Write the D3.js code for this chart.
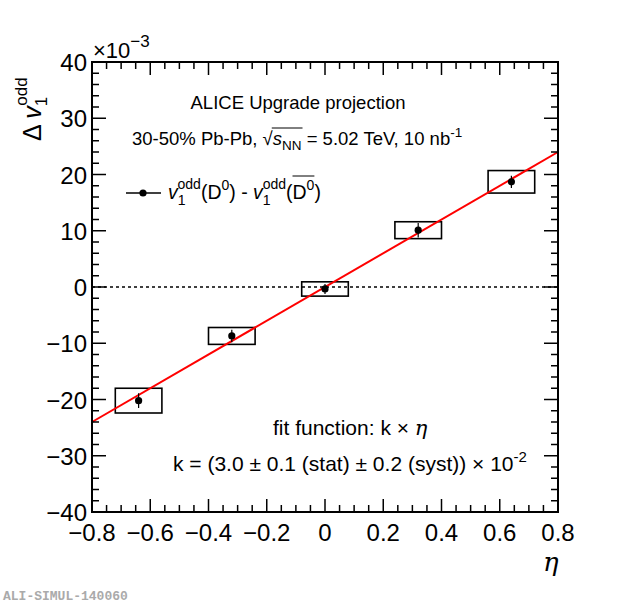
<!DOCTYPE html>
<html>
<head>
<meta charset="utf-8">
<script src="https://cdn.jsdelivr.net/npm/d3@7"></script>
<style>
  body { margin: 0; background: #fff; }
  svg text { font-family: "Liberation Sans", Arial, sans-serif; fill: #000; }
</style>
</head>
<body>
<script>
// Data (units of 10^-3)
var etaValues = [-0.64, -0.32, 0, 0.32, 0.64];
var dv1Values = [-20.2, -8.7, -0.35, 10.1, 18.7];
var statErrors = [1.3, 1.1, 0.9, 1.3, 1.1];
var systErrors = [2.2, 1.5, 1.27, 1.5, 2.0];
var etaHalfWidth = 0.08;
var fitSlope = 30; // k = 3.0e-2 -> 30 in 10^-3 units
var xTicks = [-0.8, -0.6, -0.4, -0.2, 0, 0.2, 0.4, 0.6, 0.8];
var yTicks = [-40, -30, -20, -10, 0, 10, 20, 30, 40];

var width = 620,
  height = 603;

// frame edges (note: "top" is reserved on window, so prefixed names)
var frameLeft = 92, frameRight = 558, frameTop = 62, frameBottom = 512;

var svg = d3.select('body')
  .append('svg')
  .attr('width', width)
  .attr('height', height);

var x = d3.scaleLinear().domain([-0.8, 0.8]).range([frameLeft, frameRight]);
var y = d3.scaleLinear().domain([-40, 40]).range([frameBottom, frameTop]);

// Zero dashed line
svg.append('line')
  .attr('x1', x(-0.8)).attr('x2', x(0.8))
  .attr('y1', y(0)).attr('y2', y(0))
  .attr('stroke', '#000')
  .attr('stroke-width', 1.5)
  .attr('stroke-dasharray', '3,3');

// Systematic boxes
svg.append('g').selectAll('rect')
  .data(etaValues)
  .enter()
  .append('rect')
  .attr('x', function(d) { return x(d - etaHalfWidth); })
  .attr('width', function(d) { return x(d + etaHalfWidth) - x(d - etaHalfWidth); })
  .attr('y', function(d, i) { return y(dv1Values[i] + systErrors[i]); })
  .attr('height', function(d, i) { return y(dv1Values[i] - systErrors[i]) - y(dv1Values[i] + systErrors[i]); })
  .attr('fill', 'none')
  .attr('stroke', '#000')
  .attr('stroke-width', 1.6);

// Fit line
svg.append('line')
  .attr('x1', x(-0.8)).attr('y1', y(fitSlope * -0.8))
  .attr('x2', x(0.8)).attr('y2', y(fitSlope * 0.8))
  .attr('stroke', '#f00')
  .attr('stroke-width', 2);

// Stat error bars
svg.append('g').selectAll('line')
  .data(etaValues)
  .enter()
  .append('line')
  .attr('x1', function(d) { return x(d); })
  .attr('x2', function(d) { return x(d); })
  .attr('y1', function(d, i) { return y(dv1Values[i] + statErrors[i]); })
  .attr('y2', function(d, i) { return y(dv1Values[i] - statErrors[i]); })
  .attr('stroke', '#000')
  .attr('stroke-width', 1.2);

// Markers
svg.append('g').selectAll('circle')
  .data(etaValues)
  .enter()
  .append('circle')
  .attr('cx', function(d) { return x(d); })
  .attr('cy', function(d, i) { return y(dv1Values[i]); })
  .attr('r', 3.6)
  .attr('fill', '#000');

// Frame
svg.append('rect')
  .attr('x', frameLeft).attr('y', frameTop)
  .attr('width', frameRight - frameLeft).attr('height', frameBottom - frameTop)
  .attr('fill', 'none')
  .attr('stroke', '#000')
  .attr('stroke-width', 2);

// Ticks (ROOT style, inward on all four sides)
var ticks = svg.append('g').attr('stroke', '#000').attr('stroke-width', 1.5);
d3.range(0, 33).forEach(function(k) {
  var v = -0.8 + k * 0.05;
  var len = (k % 4 === 0) ? 13 : 7;
  ticks.append('line').attr('x1', x(v)).attr('x2', x(v)).attr('y1', frameBottom).attr('y2', frameBottom - len);
  ticks.append('line').attr('x1', x(v)).attr('x2', x(v)).attr('y1', frameTop).attr('y2', frameTop + len);
});
d3.range(-40, 41, 2).forEach(function(v) {
  var len = (v % 10 === 0) ? 14 : 7;
  ticks.append('line').attr('x1', frameLeft).attr('x2', frameLeft + len).attr('y1', y(v)).attr('y2', y(v));
  ticks.append('line').attr('x1', frameRight).attr('x2', frameRight - len).attr('y1', y(v)).attr('y2', y(v));
});

function fmt(v) {
  var s = String(Math.round(v * 10) / 10);
  return s.replace('-', '\u2212');
}

// Tick labels
svg.append('g').selectAll('text')
  .data(xTicks)
  .enter()
  .append('text')
  .attr('x', function(d) { return x(d); })
  .attr('y', 541)
  .attr('text-anchor', 'middle')
  .attr('font-size', 24)
  .text(fmt);

svg.append('g').selectAll('text')
  .data(yTicks)
  .enter()
  .append('text')
  .attr('x', 87)
  .attr('y', function(d) { return y(d) + 9; })
  .attr('text-anchor', 'end')
  .attr('font-size', 24)
  .text(fmt);

// x10^-3
var exp = svg.append('text').attr('x', 93).attr('y', 58).attr('font-size', 22);
exp.append('tspan').text('\u00d710');
exp.append('tspan').attr('dy', -11).attr('font-size', 17).text('\u22123');

// Axis titles
var yt = svg.append('text')
  .attr('transform', 'translate(41,141) rotate(-90)')
  .attr('font-size', 25);
yt.append('tspan').text('\u0394 ');
yt.append('tspan').attr('font-style', 'italic').text('v');
yt.append('tspan').attr('dy', 6).attr('font-size', 17).text('1');
yt.append('tspan').attr('dx', -9).attr('dy', -20).attr('font-size', 17).text('odd');

svg.append('text')
  .attr('x', 543).attr('y', 571)
  .attr('font-size', 26)
  .attr('font-style', 'italic')
  .style('font-family', '"DejaVu Serif", serif')
  .text('\u03b7');

// Header texts
svg.append('text')
  .attr('x', 298).attr('y', 109)
  .attr('text-anchor', 'middle')
  .attr('font-size', 18.5)
  .text('ALICE Upgrade projection');

var t2 = svg.append('text').attr('x', 132).attr('y', 145).attr('font-size', 18.5);
t2.append('tspan').text('30-50% Pb-Pb, \u221A');
t2.append('tspan').attr('font-style', 'italic').text('s');
t2.append('tspan').attr('dy', 5).attr('font-size', 13.5).text('NN');
t2.append('tspan').attr('dy', -5).text(' = 5.02 TeV, 10 nb');
t2.append('tspan').attr('dy', -8).attr('font-size', 13.5).text('-1');

// Overline of the sqrt
(function() {
  var node = t2.node();
  var full = node.textContent;
  var iRoot = full.indexOf('\u221A');
  var iEnd = full.indexOf('NN') + 1;
  var x1 = node.getEndPositionOfChar(iRoot).x - 1;
  var x2 = node.getEndPositionOfChar(iEnd).x + 1;
  svg.append('line')
    .attr('x1', x1).attr('x2', x2)
    .attr('y1', 128).attr('y2', 128)
    .attr('stroke', '#000').attr('stroke-width', 1);
})();

// Legend
svg.append('line')
  .attr('x1', 126).attr('x2', 161).attr('y1', 193).attr('y2', 193)
  .attr('stroke', '#000').attr('stroke-width', 1.5);
svg.append('circle').attr('cx', 143).attr('cy', 193).attr('r', 3.6).attr('fill', '#000');

var lg = svg.append('text').attr('x', 168).attr('y', 199).attr('font-size', 19.5);
lg.append('tspan').attr('font-style', 'italic').text('v');
lg.append('tspan').attr('dy', 6).attr('font-size', 14).text('1');
lg.append('tspan').attr('dx', -8).attr('dy', -16).attr('font-size', 14).text('odd');
lg.append('tspan').attr('dy', 10).text('(D');
lg.append('tspan').attr('dy', -9).attr('font-size', 14).text('0');
lg.append('tspan').attr('dy', 9).text(') - ');
lg.append('tspan').attr('font-style', 'italic').text('v');
lg.append('tspan').attr('dy', 6).attr('font-size', 14).text('1');
lg.append('tspan').attr('dx', -8).attr('dy', -16).attr('font-size', 14).text('odd');
lg.append('tspan').attr('dy', 10).text('(D');
lg.append('tspan').attr('dy', -9).attr('font-size', 14).text('0');
lg.append('tspan').attr('dy', 9).text(')');

// Overline on D-bar
(function() {
  var node = lg.node();
  var full = node.textContent;
  var iD = full.lastIndexOf('D');
  var p1 = node.getStartPositionOfChar(iD).x;
  var p2 = node.getEndPositionOfChar(iD + 1).x;
  svg.append('line')
    .attr('x1', p1).attr('x2', p2)
    .attr('y1', 176).attr('y2', 176)
    .attr('stroke', '#000').attr('stroke-width', 1);
})();

// Fit texts
var f1 = svg.append('text').attr('x', 273).attr('y', 435).attr('font-size', 21);
f1.append('tspan').text('fit function: k \u00d7 ');
f1.append('tspan').attr('font-style', 'italic').style('font-family', '"DejaVu Serif", serif').text('\u03b7');

var f2 = svg.append('text').attr('x', 173).attr('y', 471).attr('font-size', 21);
f2.append('tspan').text('k = (3.0 \u00b1 0.1 (stat) \u00b1 0.2 (syst)) \u00d7 10');
f2.append('tspan').attr('dy', -9).attr('font-size', 15).text('-2');

// Watermark
svg.append('text')
  .attr('x', 3).attr('y', 600)
  .style('font-family', '"Liberation Mono", monospace')
  .attr('font-weight', 'bold')
  .attr('font-size', 13)
  .style('fill', '#aaa')
  .text('ALI-SIMUL-140060');
</script>
</body>
</html>
